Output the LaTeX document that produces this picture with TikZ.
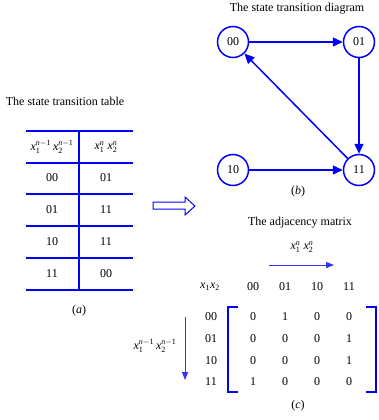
\documentclass[tikz,border=0pt]{standalone}
\usepackage{amsmath}
\usepackage{fontspec}
\setmainfont{Liberation Serif}
\usetikzlibrary{arrows.meta}
\newcommand{\vx}{\text{\itshape x}}
\newcommand{\vn}{\text{\itshape n}}
\newcommand{\ts}[1]{\text{#1}}
\newcommand{\prevst}{$\vx_{\ts{1}}^{\vn-\ts{1}}\,\vx_{\ts{2}}^{\vn-\ts{1}}$}
\newcommand{\curst}{$\vx_{\ts{1}}^{\vn}\;\vx_{\ts{2}}^{\vn}$}
\begin{document}
\begin{tikzpicture}[x=1pt,y=-1pt,
  every node/.style={font=\fontsize{12}{14}\selectfont, inner sep=1pt},
  tline/.style={draw=blue, line width=1.4pt},
  st/.style={circle, draw=blue, line width=1.5pt, minimum size=31pt, inner sep=0pt},
  tr/.style={draw=blue, line width=1.5pt, -{Triangle[length=10pt,width=9pt]}},
  ax/.style={draw=blue!80, line width=1pt, -{Triangle[length=8pt,width=6pt]}},
  brk/.style={draw=blue, line width=1.5pt}]
\useasboundingbox (0,0) rectangle (378,420);
% ---- table (a)
\node (ttab) at (65,101) {The state transition table};
\foreach \y in {131,163,194,226,258,290}{\draw[tline] (26,\y) -- (133,\y);}
\draw[tline] (79,131) -- (79,290);
\node (h1) at (52,147) {\prevst};
\node (h2) at (106,147) {\curst};
\node (a1) at (52,178) {00}; \node (b1) at (106,178) {01};
\node (a2) at (52,210) {01}; \node (b2) at (106,210) {11};
\node (a3) at (52,242) {10}; \node (b3) at (106,242) {11};
\node (a4) at (52,274) {11}; \node (b4) at (106,274) {00};
\node (capa) at (79,311) {(\textit{a})};
% ---- hollow arrow
\draw[draw=blue, line width=1pt] (153,202) -- (185,202) -- (185,197) -- (195,206) -- (185,215) -- (185,209) -- (153,209) -- cycle;
% ---- diagram (b)
\node (tdiag) at (297,9) {The state transition diagram};
\node[st] (s00) at (233,42) {00};
\node[st] (s01) at (359,42) {01};
\node[st] (s10) at (233,170) {10};
\node[st] (s11) at (359,170) {11};
\draw[tr] (s00) -- (s01);
\draw[tr] (s01) -- (s11);
\draw[tr] (s10) -- (s11);
\draw[tr] (s11) -- (s00);
\node (capb) at (298,192) {(\textit{b})};
% ---- matrix (c)
\node (tmat) at (300,223) {The adjacency matrix};
\node (cl) at (302,247) {\curst};
\coordinate (ha) at (269,265); \coordinate (hb) at (334,265);
\draw[ax] (ha) -- (hb);
\node (xx) at (210,287) {$\vx_{\ts{1}}\vx_{\ts{2}}$};
\node (c1) at (253,287) {00}; \node (c2) at (285,287) {01};
\node (c3) at (317,287) {10}; \node (c4) at (349,287) {11};
\node (r1) at (211,317) {00}; \node (r2) at (211,339) {01};
\node (r3) at (211,361) {10}; \node (r4) at (211,382) {11};
\foreach \r/\y/\a/\b/\c/\d in {1/317/0/1/0/0, 2/339/0/0/0/1, 3/361/0/0/0/1, 4/382/1/0/0/0}{
  \node (m\r a) at (253,\y) {\a};
  \node (m\r b) at (285,\y) {\b};
  \node (m\r c) at (317,\y) {\c};
  \node (m\r d) at (349,\y) {\d};
}
\draw[brk] (238,307) -- (228,307) -- (228,392) -- (238,392);
\draw[brk] (366,307) -- (376,307) -- (376,392) -- (366,392);
\node (rl) at (155,346) {\prevst};
\coordinate (va) at (185,317); \coordinate (vb) at (185,380);
\draw[ax] (va) -- (vb);
\node (capc) at (298,406) {(\textit{c})};
\end{tikzpicture}
\end{document}
